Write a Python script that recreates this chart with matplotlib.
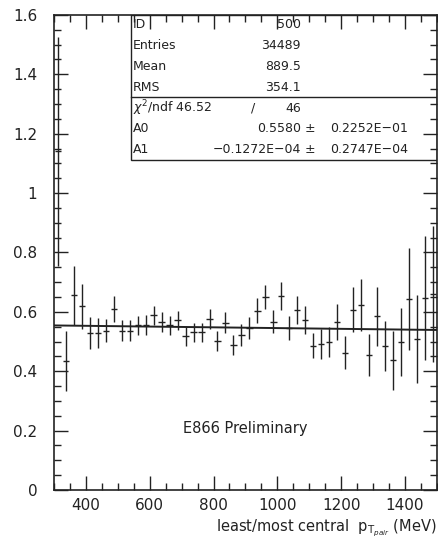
import matplotlib
matplotlib.use('Agg')
import matplotlib.pyplot as plt
import numpy as np
from matplotlib.ticker import MultipleLocator, FormatStrFormatter
from matplotlib.patches import Rectangle

# Data: 48 bins of 25 MeV from 300 to 1500
bin_lo = 300
bin_width = 25
ratio = [1.14, 0.435, 0.655, 0.618, 0.529, 0.529, 0.537, 0.610, 0.537, 0.537,
         0.554, 0.556, 0.588, 0.565, 0.554, 0.571, 0.517, 0.531, 0.531, 0.576,
         0.503, 0.563, 0.488, 0.522, 0.545, 0.604, 0.650, 0.567, 0.652, 0.545,
         0.607, 0.573, 0.486, 0.491, 0.499, 0.565, 0.463, 0.607, 0.624, 0.454,
         0.585, 0.485, 0.437, 0.498, 0.644, 0.508, 0.647, 0.660]
ratio_err = [0.385, 0.10, 0.10, 0.075, 0.055, 0.05, 0.04, 0.043, 0.035, 0.035,
             0.033, 0.033, 0.033, 0.033, 0.033, 0.033, 0.033, 0.033, 0.033, 0.034,
             0.034, 0.035, 0.035, 0.036, 0.037, 0.042, 0.041, 0.038, 0.047, 0.040,
             0.047, 0.048, 0.042, 0.051, 0.051, 0.060, 0.055, 0.075, 0.087, 0.070,
             0.100, 0.085, 0.100, 0.115, 0.172, 0.148, 0.210, 0.230]

# fit parameters
A0 = 0.5580
A1 = -0.1272e-04

stats_labels = ['ID', 'Entries', 'Mean', 'RMS']
stats_values = ['500', '34489', '889.5', '354.1']

ink = '#222222'

fig = plt.figure(figsize=(4.39, 5.43), dpi=100)
ax = fig.add_axes([0.123, 0.0976, 0.872, 0.875])

x = bin_lo + bin_width * (np.arange(len(ratio)) + 0.5)
ax.errorbar(x, ratio, yerr=ratio_err, xerr=10, fmt='none',
            ecolor=ink, elinewidth=1.0, capsize=0)

xf = np.array([300, 1500])
ax.plot(xf, A0 + A1 * xf, color=ink, lw=1.4)

ax.set_xlim(300, 1500)
ax.set_ylim(0, 1.6)
ax.xaxis.set_major_locator(MultipleLocator(200))
ax.xaxis.set_minor_locator(MultipleLocator(50))
ax.yaxis.set_major_locator(MultipleLocator(0.2))
ax.yaxis.set_minor_locator(MultipleLocator(0.05))
ax.yaxis.set_major_formatter(FormatStrFormatter('%g'))
ax.set_xticks([400, 600, 800, 1000, 1200, 1400])
ax.tick_params(which='both', direction='in', top=True, right=True,
               color=ink, labelsize=11, labelcolor=ink)
ax.tick_params(which='major', length=10, width=1)
ax.tick_params(which='minor', length=5, width=1)
ax.tick_params(axis='y', pad=12)
ax.tick_params(axis='x', pad=6)
for s in ax.spines.values():
    s.set_color(ink)
    s.set_linewidth(1.2)

ax.text(1.0, -0.058, r'least/most central  $\mathrm{p}_{\mathrm{T}_{pair}}$ (MeV)',
        transform=ax.transAxes, ha='right', va='top', fontsize=10.5, color=ink)
ax.text(0.338, 0.13, 'E866 Preliminary', transform=ax.transAxes,
        fontsize=10.5, color=ink, va='center')

# stats box
ax.add_patch(Rectangle((0.200, 0.695), 0.8, 0.305, transform=ax.transAxes,
                       fill=False, ec=ink, lw=1.0))
ax.plot([0.200, 1.0], [0.827, 0.827], transform=ax.transAxes, color=ink, lw=1.0)

rows = [0.979, 0.935, 0.891, 0.848]
for lab, val, yy in zip(stats_labels, stats_values, rows):
    ax.text(0.207, yy, lab, transform=ax.transAxes, fontsize=9, va='center', color=ink)
    ax.text(0.645, yy, val, transform=ax.transAxes, fontsize=9, va='center',
            ha='right', color=ink)

ax.text(0.207, 0.804, r'$\chi^2$/ndf 46.52', transform=ax.transAxes, fontsize=9,
        va='center', color=ink)
ax.text(0.52, 0.804, '/', transform=ax.transAxes, fontsize=9, va='center',
        ha='center', color=ink)
ax.text(0.645, 0.804, '46', transform=ax.transAxes, fontsize=9, va='center',
        ha='right', color=ink)

fit_rows = [('A0', '0.5580', '0.2252E\u221201', 0.760),
            ('A1', '\u22120.1272E\u221204', '0.2747E\u221204', 0.716)]
for lab, val, err, yy in fit_rows:
    ax.text(0.207, yy, lab, transform=ax.transAxes, fontsize=9, va='center', color=ink)
    ax.text(0.645, yy, val, transform=ax.transAxes, fontsize=9, va='center',
            ha='right', color=ink)
    ax.text(0.668, yy, '\u00b1', transform=ax.transAxes, fontsize=9, va='center',
            ha='center', color=ink)
    ax.text(0.722, yy, err, transform=ax.transAxes, fontsize=9, va='center', color=ink)

fig.savefig('out.png', dpi=100)
